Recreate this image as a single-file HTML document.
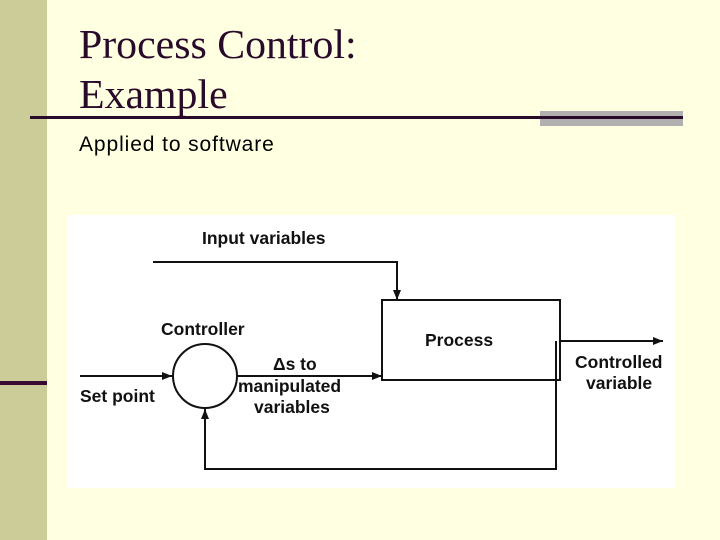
<!DOCTYPE html>
<html><head><style>
body{margin:0;width:720px;height:540px;background:#ffffe1;position:relative;overflow:hidden;font-family:"Liberation Sans",sans-serif}
.side{position:absolute;left:0;top:0;width:47px;height:540px;background:#cccc99}
.t{position:absolute;left:79px;font-family:"Liberation Serif",serif;font-size:41px;color:#2a0a2a;line-height:1;transform:scaleX(1.02);transform-origin:left}
</style></head><body>
<div class="side"></div>
<div style="position:absolute;left:0;top:381px;width:47px;height:4px;background:#3a0a30"></div>
<div class="t" style="top:24px">Process Control:</div>
<div class="t" style="top:74px">Example</div>
<div style="position:absolute;left:540px;top:111px;width:143px;height:15px;background:#b0b0b0"></div>
<div style="position:absolute;left:30px;top:116px;width:653px;height:3px;background:#2a0a2a"></div>
<div style="position:absolute;left:79px;top:133px;font-size:21px;letter-spacing:0.9px;color:#000">Applied to software</div>
<svg style="position:absolute;left:0;top:0" width="720" height="540">
<defs><marker id="a" markerWidth="10" markerHeight="8" refX="10" refY="4" orient="auto" markerUnits="userSpaceOnUse"><path d="M0,0 L10,4 L0,8 z" fill="#111"/></marker></defs>
<rect x="67" y="215" width="608" height="273" fill="#fff"/>
<g stroke="#111" stroke-width="2" fill="none">
<polyline points="153,262 397,262 397,300" marker-end="url(#a)"/>
<rect x="382" y="300" width="178" height="80" fill="#fff"/>
<circle cx="205" cy="376" r="32"/>
<line x1="80" y1="376" x2="172" y2="376" marker-end="url(#a)"/>
<line x1="237" y1="376" x2="382" y2="376" marker-end="url(#a)"/>
<line x1="560" y1="341" x2="663" y2="341" marker-end="url(#a)"/>
<polyline points="556,341 556,469 205,469 205,409" marker-end="url(#a)"/>
</g>
<g font-family="Liberation Sans,sans-serif" font-size="17.5" fill="#111" font-weight="bold">
<text x="202" y="244">Input variables</text>
<text x="161" y="335">Controller</text>
<text x="425" y="346">Process</text>
<text x="80" y="402">Set point</text>
<text x="273" y="370">Δs to</text>
<text x="238" y="392">manipulated</text>
<text x="254" y="413">variables</text>
<text x="575" y="368">Controlled</text>
<text x="586" y="389">variable</text>
</g>
</svg>
</body></html>
